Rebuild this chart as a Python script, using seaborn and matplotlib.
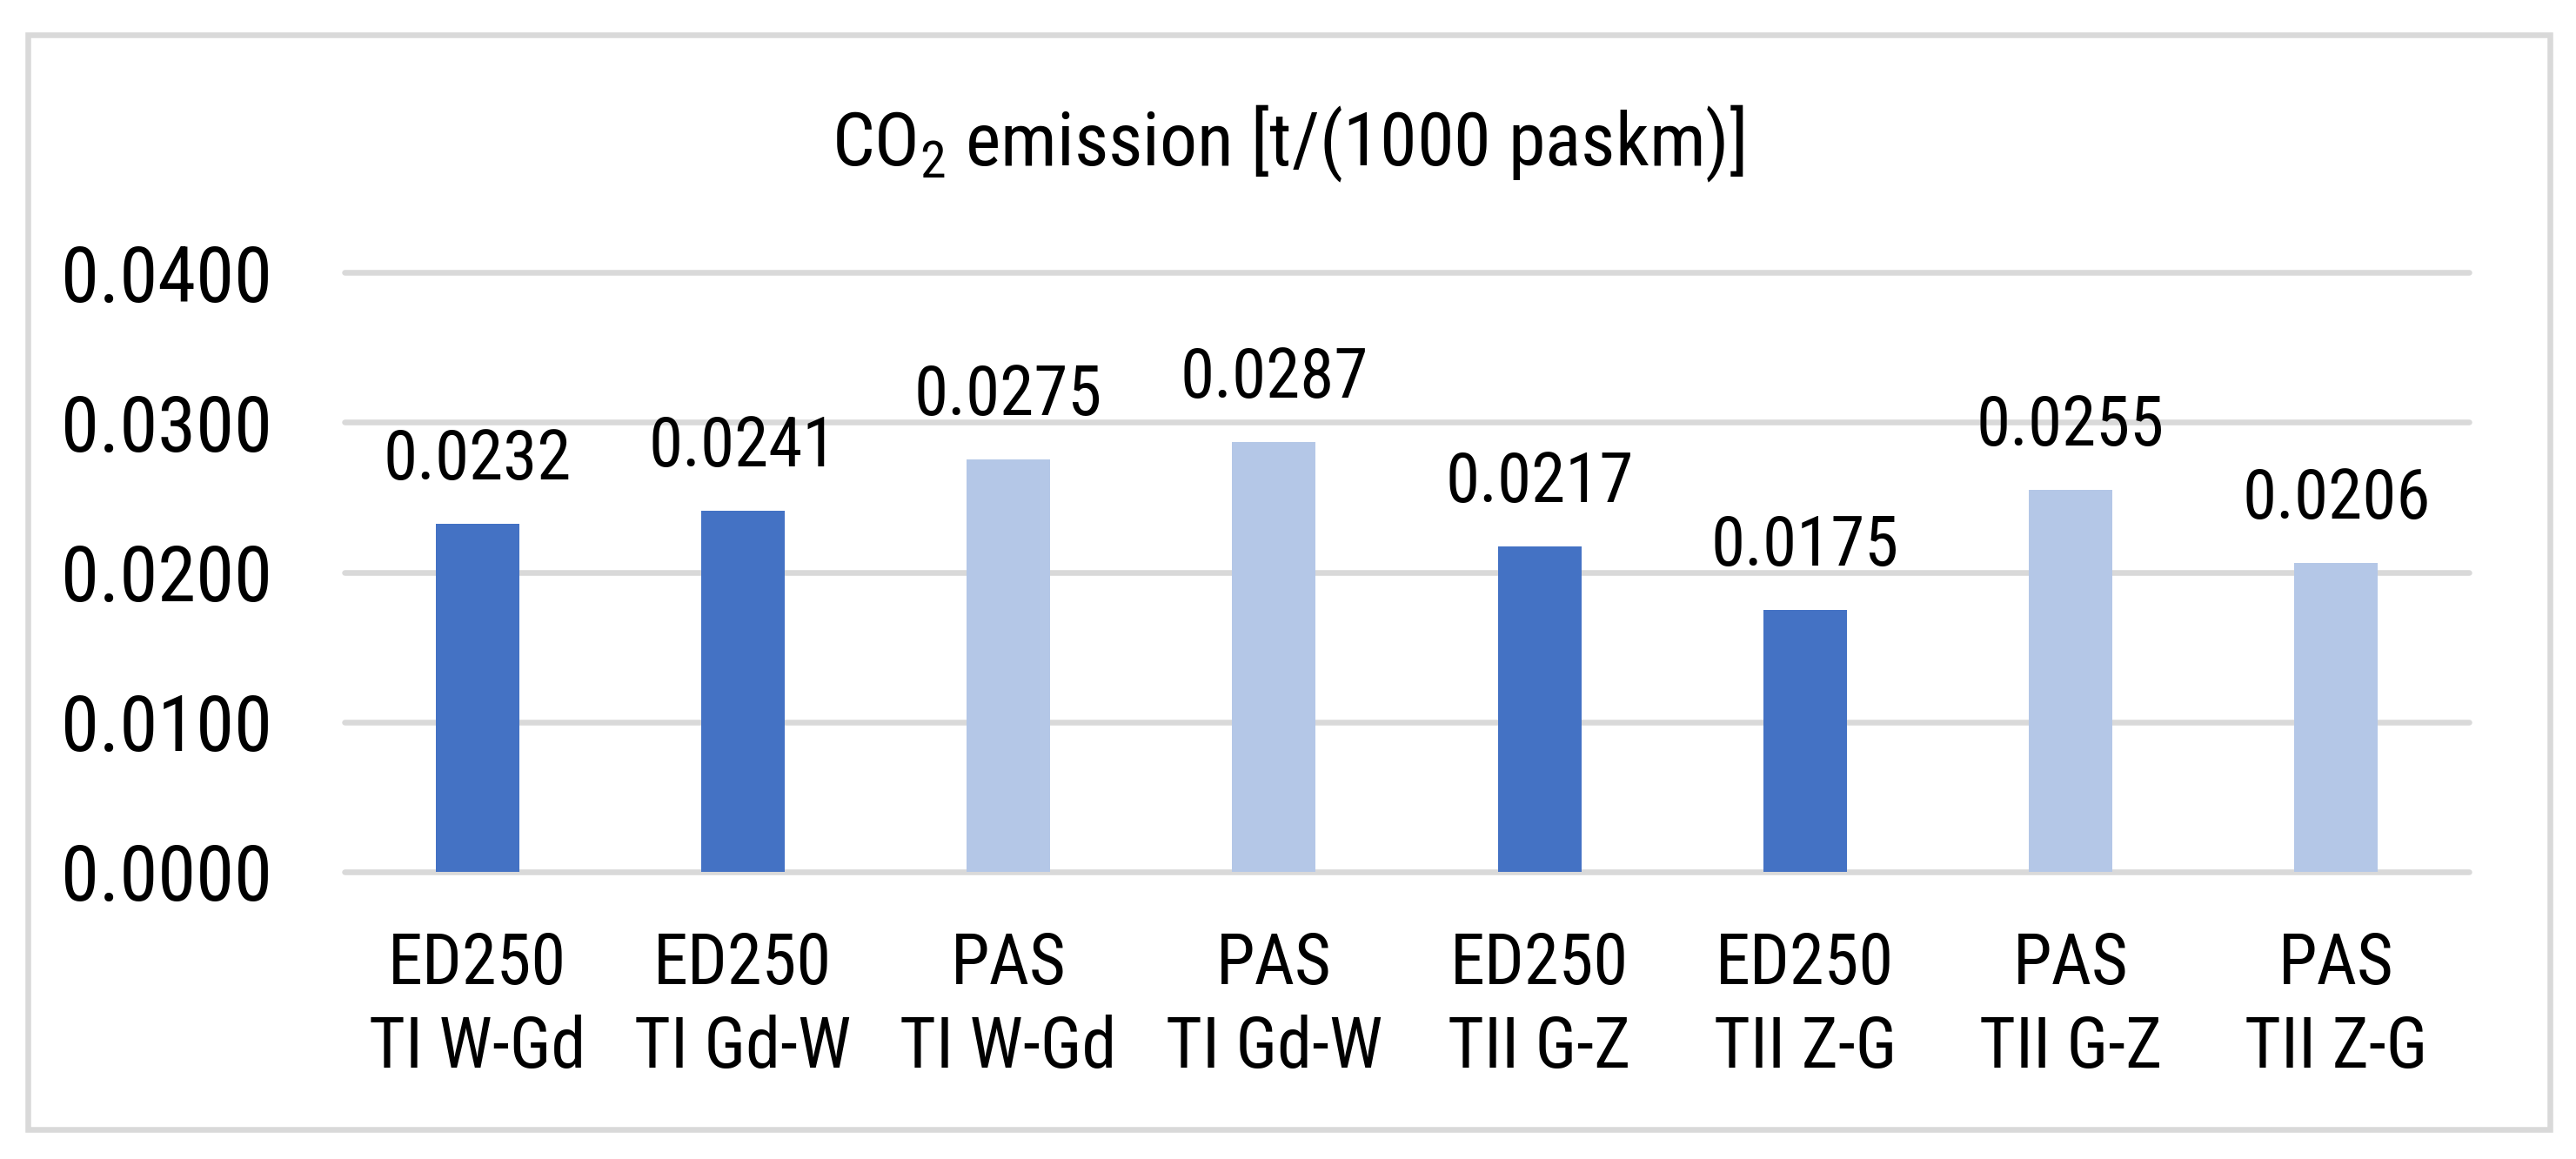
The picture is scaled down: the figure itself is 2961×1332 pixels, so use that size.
import matplotlib
matplotlib.use('Agg')
import matplotlib.pyplot as plt
import pandas as pd
import seaborn as sns
from matplotlib.patches import Rectangle
from matplotlib.ticker import FuncFormatter

# Data
routes = [
    'ED250\nTI W-Gd', 'ED250\nTI Gd-W', 'PAS\nTI W-Gd', 'PAS\nTI Gd-W',
    'ED250\nTII G-Z', 'ED250\nTII Z-G', 'PAS\nTII G-Z', 'PAS\nTII Z-G',
]
trains = ['ED250', 'ED250', 'PAS', 'PAS', 'ED250', 'ED250', 'PAS', 'PAS']
co2 = [0.0232, 0.0241, 0.0275, 0.0287, 0.0217, 0.0175, 0.0255, 0.0206]
y_ticks = [0.0, 0.01, 0.02, 0.03, 0.04]

colours = {'ED250': '#4472C4', 'PAS': '#B4C7E7'}
grid_colour = '#d9d9d9'

sns.set_style('white')
plt.rcParams['font.family'] = ['Roboto Condensed', 'Liberation Sans', 'DejaVu Sans']
plt.rcParams['text.color'] = 'black'
plt.rcParams['xtick.color'] = 'black'
plt.rcParams['ytick.color'] = 'black'

df = pd.DataFrame({'route': routes, 'co2': co2, 'train': trains})

W, H = 2961, 1332
fig = plt.figure(figsize=(W / 100, H / 100), dpi=100)
ax = fig.add_axes([396 / W, 1 - 1002 / H, (2838 - 396) / W, (1002 - 313) / H])

sns.barplot(
    data=df, x='route', y='co2', hue='train', palette=colours, dodge=False,
    width=0.315, saturation=1, linewidth=0, legend=False, ax=ax, zorder=2
)

ax.set_ylim(0, 0.04)
ax.set_yticks(y_ticks)
ax.yaxis.set_major_formatter(FuncFormatter(lambda v, _: f'{v:.4f}'))
ax.set(xlabel=None, ylabel=None)

ax.grid(axis='y', color=grid_colour, lw=4.7, zorder=1)
ax.set_axisbelow(True)
for line in ax.get_ygridlines():
    line.set_clip_on(False)

for side in ax.spines:
    ax.spines[side].set_visible(False)

ax.tick_params(length=0)
ax.tick_params(axis='y', labelsize=64, pad=60)
ax.tick_params(axis='x', labelsize=58, pad=49)
for lbl in ax.get_xticklabels():
    lbl.set_linespacing(1.3)

# value labels above the bars
for i, v in enumerate(co2):
    ax.annotate(
        f'{v:.4f}', xy=(i, v), xytext=(0, 36.7), textcoords='offset points',
        ha='center', va='baseline', fontsize=57
    )

fig.text(
    0.5, 1 - 190 / H, r'CO$_\mathregular{2}$ emission [t/(1000 paskm)]',
    ha='center', va='baseline', fontsize=62
)

# light grey frame around the chart
fig.patches.append(Rectangle(
    (32 / W, 1 - 1298 / H), (2931 - 32) / W, (1298 - 40) / H,
    transform=fig.transFigure, fill=False, edgecolor=grid_colour, lw=4.7
))

fig.savefig('out.png', dpi=100)
